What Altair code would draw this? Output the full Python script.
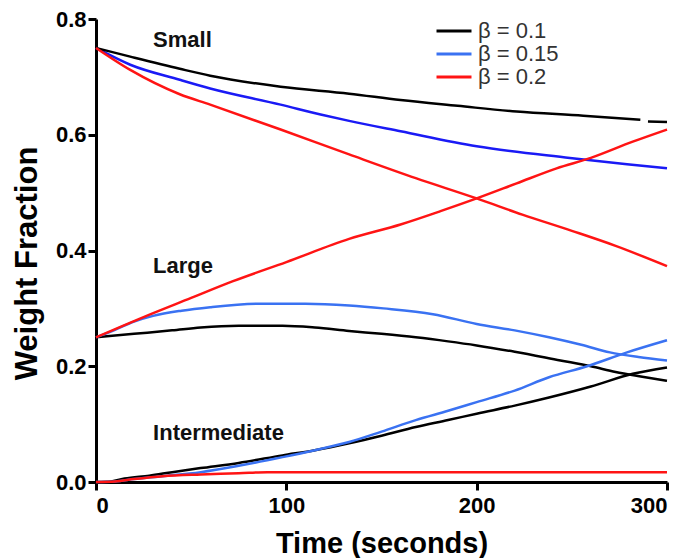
import altair as alt
import pandas as pd

BETAS = ["β = 0.1", "β = 0.15", "β = 0.2"]
COLORS = ["#000000", "#3a72f2", "#ff1414"]
SMALL_BLUE = "#1a1af5"

# ---- Small fraction ----
T_S1A = [0, 18, 44, 60, 97, 133, 160, 190, 221, 256, 286]
V_S1A = [0.75, 0.735, 0.714, 0.702, 0.683, 0.671, 0.660, 0.650, 0.640, 0.633, 0.626]
T_S1B = [290, 300]
V_S1B = [0.623, 0.622]

T_S2 = [0, 18, 44, 60, 97, 118, 133, 160, 200, 249, 279, 300]
V_S2 = [0.75, 0.721, 0.695, 0.680, 0.652, 0.635, 0.624, 0.606, 0.580, 0.560, 0.549, 0.542]

T_S3 = [0, 18, 44, 60, 97, 133, 168, 200, 224, 250, 273, 300]
V_S3 = [0.75, 0.712, 0.670, 0.652, 0.609, 0.566, 0.525, 0.490, 0.462, 0.434, 0.408, 0.373]

# ---- Large fraction ----
T_L1 = [0, 20, 40, 55, 75, 98, 115, 133, 150, 168, 185, 200, 220, 244, 260, 273, 287, 300]
V_L1 = [0.25, 0.256, 0.262, 0.267, 0.270, 0.270, 0.267, 0.261, 0.256, 0.250, 0.243, 0.236,
        0.225, 0.210, 0.200, 0.190, 0.182, 0.175]

T_L2 = [0, 10, 20, 30, 45, 60, 86, 110, 133, 151, 177, 200, 220, 238, 255, 270, 285, 300]
V_L2 = [0.25, 0.263, 0.277, 0.287, 0.296, 0.302, 0.308, 0.308, 0.305, 0.300, 0.290, 0.273,
        0.262, 0.250, 0.237, 0.224, 0.216, 0.210]

T_L3 = [0, 25, 50, 72, 100, 133, 160, 181, 200, 221, 242, 260, 282, 300]
V_L3 = [0.25, 0.285, 0.318, 0.347, 0.380, 0.420, 0.445, 0.468, 0.490, 0.516, 0.542, 0.560,
        0.588, 0.609]

# ---- Intermediate fraction ----
T_I1 = [0, 8, 15, 28, 40, 55, 75, 98, 115, 133, 150, 168, 185, 200, 220, 238, 260, 282, 300]
V_I1 = [0.0, 0.001, 0.006, 0.011, 0.017, 0.024, 0.033, 0.046, 0.055, 0.067, 0.080, 0.095,
        0.107, 0.118, 0.132, 0.146, 0.165, 0.187, 0.198]

T_I2 = [0, 10, 20, 35, 55, 75, 98, 115, 133, 150, 168, 185, 200, 220, 238, 258, 279, 300]
V_I2 = [0.0, 0.001, 0.005, 0.010, 0.017, 0.028, 0.043, 0.055, 0.069, 0.087, 0.107, 0.123,
        0.138, 0.158, 0.181, 0.200, 0.224, 0.245]

T_I3 = [0, 10, 20, 35, 55, 75, 90, 300]
V_I3 = [0.0, 0.001, 0.005, 0.010, 0.013, 0.015, 0.017, 0.017]

# ---- Annotations ----
ANN_TEXT = ["Small", "Large", "Intermediate"]
ANN_T = [30, 30, 30]
ANN_V = [0.752, 0.361, 0.072]

curves = [
    ("L1", BETAS[0], T_L1, V_L1),
    ("I1", BETAS[0], T_I1, V_I1),
    ("S1a", BETAS[0], T_S1A, V_S1A),
    ("S1b", BETAS[0], T_S1B, V_S1B),
    ("L2", BETAS[1], T_L2, V_L2),
    ("I2", BETAS[1], T_I2, V_I2),
    ("L3", BETAS[2], T_L3, V_L3),
    ("I3", BETAS[2], T_I3, V_I3),
    ("S3", BETAS[2], T_S3, V_S3),
]
rows = []
for cid, beta, ts, vs in curves:
    for t, v in zip(ts, vs):
        rows.append({"curve": cid, "beta": beta, "t": t, "v": v})
df = pd.DataFrame(rows)

df_blue_small = pd.DataFrame({"t": T_S2, "v": V_S2, "curve": "S2"})
df_ann = pd.DataFrame({"label": ANN_TEXT, "t": ANN_T, "v": ANN_V})

x_enc = alt.X("t:Q", scale=alt.Scale(domain=[0, 300], nice=False),
              axis=alt.Axis(values=[0, 100, 200, 300], format="d", title="Time (seconds)",
                            labelPadding=5, titlePadding=13, titleFontSize=29))
y_enc = alt.Y("v:Q", scale=alt.Scale(domain=[0, 0.8], nice=False),
              axis=alt.Axis(values=[0, 0.2, 0.4, 0.6, 0.8], format=".1f",
                            title="Weight Fraction", labelPadding=2, titlePadding=12,
                            titleFontSize=31, titleY=244))

lines = alt.Chart(df).mark_line(strokeWidth=2.5, interpolate="monotone").encode(
    x=x_enc,
    y=y_enc,
    detail="curve:N",
    order=alt.Order("t:Q"),
    color=alt.Color("beta:N", scale=alt.Scale(domain=BETAS, range=COLORS),
                    legend=alt.Legend(title=None, orient="none", legendX=347, legendY=1,
                                      symbolType="M-2,0H2", symbolSize=306,
                                      symbolStrokeWidth=3, labelFontSize=22,
                                      labelFont="Liberation Sans", labelColor="#333333",
                                      labelOffset=13, rowPadding=1)),
)

blue_small = alt.Chart(df_blue_small).mark_line(strokeWidth=2.5, color=SMALL_BLUE,
                                                interpolate="monotone").encode(
    x="t:Q", y="v:Q", order=alt.Order("t:Q")
)

ann = alt.Chart(df_ann).mark_text(align="left", baseline="alphabetic", fontSize=22,
                                  fontWeight="bold", font="Liberation Sans",
                                  color="#111111").encode(
    x="t:Q", y="v:Q", text="label:N"
)

chart = alt.layer(blue_small, lines, ann).properties(
    width=571, height=463,
    autosize=alt.AutoSizeParams(type="none"),
    padding={"left": 88, "top": 11, "right": 20, "bottom": 76},
).configure_view(stroke=None).configure_axis(
    grid=False, domainColor="black", domainWidth=3, tickColor="black", tickWidth=3,
    tickSize=8, labelFont="Liberation Sans", labelFontSize=22, labelFontWeight="bold",
    labelColor="black", titleFont="Liberation Sans", titleFontSize=27,
    titleFontWeight="bold", titleColor="black",
)

chart.save("out.html", embed_options={"renderer": "svg", "actions": False})
